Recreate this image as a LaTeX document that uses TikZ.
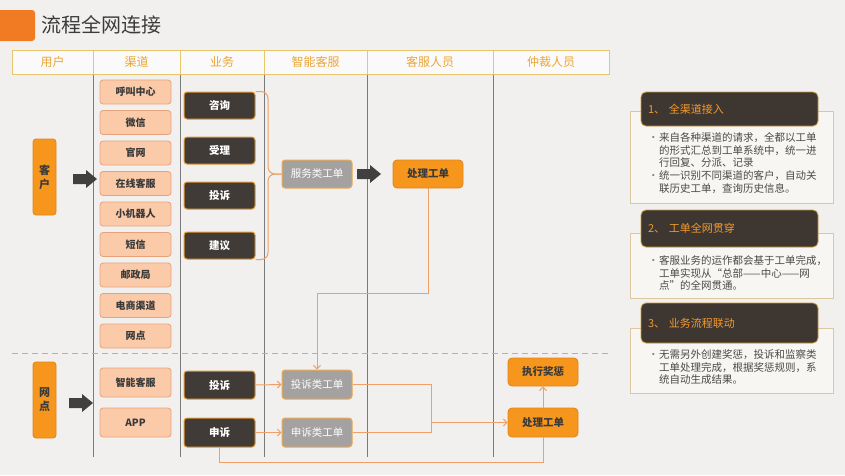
\documentclass[tikz,border=0pt]{standalone}
\usepackage{fontspec}
\setmainfont{Noto Sans CJK SC}
\usetikzlibrary{arrows.meta}
\definecolor{bg}{HTML}{F1F0EE}
\definecolor{titleor}{HTML}{F07B22}
\definecolor{titletx}{HTML}{3C3C3C}
\definecolor{hdrtx}{HTML}{EBA535}
\definecolor{hdrbd}{HTML}{E9C66E}
\definecolor{colln}{HTML}{7A7A7A}
\definecolor{peach}{HTML}{FBCBA9}
\definecolor{peachbd}{HTML}{E8A27A}
\definecolor{darkbox}{HTML}{403B37}
\definecolor{darkbd}{HTML}{E39A3A}
\definecolor{graybox}{HTML}{A3A2A0}
\definecolor{graybd}{HTML}{EBAA55}
\definecolor{orbox}{HTML}{F7961C}
\definecolor{orbd}{HTML}{E0851A}
\definecolor{lnor}{HTML}{EFA066}
\definecolor{txdark}{HTML}{3A3A3A}
\definecolor{arrowdk}{HTML}{404040}
\definecolor{panelbd}{HTML}{DCC8A0}
\definecolor{panelfill}{HTML}{F8F6F2}
\definecolor{panelhd}{HTML}{3E3631}
\definecolor{panelhdbd}{HTML}{C8963C}
\definecolor{paneltx}{HTML}{F29A2E}
\definecolor{bodytx}{HTML}{4A4A4A}
\newcommand\blkarrow[2]{%
  \fill[arrowdk] (#1,#2) ++(0,-5) -- ++(13,0) -- ++(0,-4) -- ++(11,9) -- ++(-11,9) -- ++(0,-4) -- ++(-13,0) -- cycle;}
\newcommand\bul{\makebox[8pt][l]{\hspace*{-3pt}\textcolor{gray}{•}}}
\newcommand\ind{\hspace*{8pt}}
\begin{document}
\begin{tikzpicture}[x=1pt,y=-1pt,
  hdrcell/.style={draw=hdrbd, fill=white!70!bg, line width=1pt, minimum height=24pt, inner sep=0pt, text=hdrtx, font=\fontsize{12}{14}\selectfont},
  colline/.style={draw=colln, line width=0.9pt},
  chan/.style={rounded corners=3pt, fill=peach, draw=peachbd, line width=0.8pt, minimum width=71pt, minimum height=24pt, inner sep=0pt, text=txdark, font=\fontsize{10}{12}\selectfont\bfseries},
  biz/.style={rounded corners=3pt, fill=darkbox, draw=darkbd, line width=1pt, minimum width=71pt, minimum height=27pt, inner sep=0pt, text=white, font=\fontsize{10.5}{12}\selectfont\bfseries},
  ticket/.style={rounded corners=3pt, fill=graybox, draw=graybd, line width=1pt, minimum width=70pt, minimum height=28pt, inner sep=0pt, text=white, font=\fontsize{10.5}{12}\selectfont},
  handle/.style={rounded corners=4pt, fill=orbox, draw=orbd, line width=0.8pt, minimum width=70pt, minimum height=28pt, inner sep=0pt, text=txdark, font=\fontsize{10.5}{12}\selectfont\bfseries},
  user/.style={rounded corners=3pt, fill=orbox, draw=orbd, line width=0.8pt, minimum width=23pt, minimum height=76pt, inner sep=0pt, text=txdark, align=center, font=\fontsize{11}{14}\selectfont\bfseries},
  ol/.style={draw=lnor, line width=1pt},
  tip/.style={-{Straight Barb[length=3.5pt,width=7pt]}},
  pbox/.style={draw=panelbd, fill=panelfill, line width=1pt, minimum width=203pt, inner sep=0pt},
  phead/.style={rounded corners=5pt, fill=panelhd, draw=panelhdbd, line width=0.8pt, minimum width=177pt, text width=163pt, inner xsep=7pt, align=left, text=paneltx, font=\fontsize{11}{13}\selectfont},
  ptext/.style={anchor=north west, inner sep=0pt, align=left, text=bodytx, font=\fontsize{10.5}{12.6}\selectfont}
]
\fill[bg] (0,0) rectangle (845,475);
\useasboundingbox (0,0) rectangle (845,475);

% title
\fill[titleor, rounded corners=3pt] (-4,10) rectangle (35,41);
\node[anchor=west, inner sep=0pt, text=titletx, font=\fontsize{20}{24}\selectfont] (title) at (41,25) {流程全网连接};

% header row
\node[hdrcell, minimum width=81pt] (hu) at (52.5,62) {用户};
\node[hdrcell, minimum width=87pt] (hq) at (136.5,62) {渠道};
\node[hdrcell, minimum width=84pt] (hy) at (222,62) {业务};
\node[hdrcell, minimum width=103pt] (hz) at (315.5,62) {智能客服};
\node[hdrcell, minimum width=126pt] (hk) at (430,62) {客服人员};
\node[hdrcell, minimum width=116pt] (hc) at (551,62) {仲裁人员};
\foreach \c in {hu,hq,hy,hz,hk}{\draw[colline] (\c.south east) -- (\c.south east |- 0,457);}

% dashed separator
\draw[ol, dash pattern=on 6pt off 4pt] (12,353) -- (608,353);

% users
\node[user] (kh) at (44.5,177) {客\\户};
\node[user] (wd) at (44.5,400) {网\\点};
\blkarrow{73}{179}
\blkarrow{357}{174}
\blkarrow{69}{403}

% channels
\node[chan] (c1) at (135.5,92) {呼叫中心};
\node[chan] (c2) at (135.5,122.5) {微信};
\node[chan] (c3) at (135.5,153) {官网};
\node[chan] (c4) at (135.5,183.5) {在线客服};
\node[chan] (c5) at (135.5,214) {小机器人};
\node[chan] (c6) at (135.5,244.5) {短信};
\node[chan] (c7) at (135.5,275) {邮政局};
\node[chan] (c8) at (135.5,305.5) {电商渠道};
\node[chan] (c9) at (135.5,336) {网点};
\node[chan, minimum height=29pt] (c10) at (135.5,382.5) {智能客服};
\node[chan, minimum height=29pt] (c11) at (135.5,422.5) {APP};

% business
\node[biz] (zx) at (219.5,105.5) {咨询};
\node[biz] (sl) at (219.5,150.5) {受理};
\node[biz] (ts) at (219.5,195.5) {投诉};
\node[biz] (jy) at (219.5,245.5) {建议};
\node[biz, minimum height=28pt] (ts2) at (219.5,385) {投诉};
\node[biz, minimum height=29pt] (ss) at (219.5,432.5) {申诉};

% tickets
\node[ticket] (fw) at (317,174) {服务类工单};
\node[ticket, minimum height=29pt] (tsd) at (317,384.5) {投诉类工单};
\node[ticket, minimum height=29pt] (ssd) at (317,432.5) {申诉类工单};

% handling
\node[handle] (cl1) at (428,174) {处理工单};
\node[handle] (jx) at (543,372) {执行奖惩};
\node[handle, minimum height=29pt] (cl2) at (543,422.5) {处理工单};

% brace
\draw[ol, rounded corners=7pt] (zx.north east) -| (268,174) -- (fw.west);
\draw[ol, rounded corners=7pt] (jy.south east) -| (268,174) -- (fw.west);

% connectors
\draw[ol, tip] (cl1.south) -- ++(0,105) -| (tsd.north);
\draw[ol, tip] (ts2.east) -- (tsd.west);
\draw[ol, tip] (ss.east) -- (ssd.west);
\coordinate (m) at (431,422.5);
\draw[ol] (tsd.east) -| (m);
\draw[ol] (ssd.east) -| (m);
\draw[ol, tip] (m) -- (cl2.west);
\draw[ol, tip] (cl2.north) -- (jx.south);
\draw[ol] (ss.south) -- ++(0,15) -| (cl2.south);

% right panels
\node[pbox, minimum height=92pt] (p1) at (731.5,157) {};
\node[phead, minimum height=34pt] (h1) at (729.5,109) {1、 全渠道接入};
\node[ptext] (t1) at (651,132.5) {\bul 来自各种渠道的请求，全都以工单\\\ind 的形式汇总到工单系统中，统一进\\\ind 行回复、分派、记录\\\bul 统一识别不同渠道的客户，自动关\\\ind 联历史工单，查询历史信息。};

\node[pbox, minimum height=65pt] (p2) at (731.5,265.5) {};
\node[phead, minimum height=37pt] (h2) at (729.5,228.5) {2、 工单全网贯穿};
\node[ptext] (t2) at (651,255.5) {\bul 客服业务的运作都会基于工单完成，\\\ind 工单实现从“总部——中心——网\\\ind 点”的全网贯通。};

\node[pbox, minimum height=65pt] (p3) at (731.5,360.5) {};
\node[phead, minimum height=40pt] (h3) at (729.5,323) {3、 业务流程联动};
\node[ptext] (t3) at (651,349.5) {\bul 无需另外创建奖惩，投诉和监察类\\\ind 工单处理完成，根据奖惩规则，系\\\ind 统自动生成结果。};
\end{tikzpicture}
\end{document}
